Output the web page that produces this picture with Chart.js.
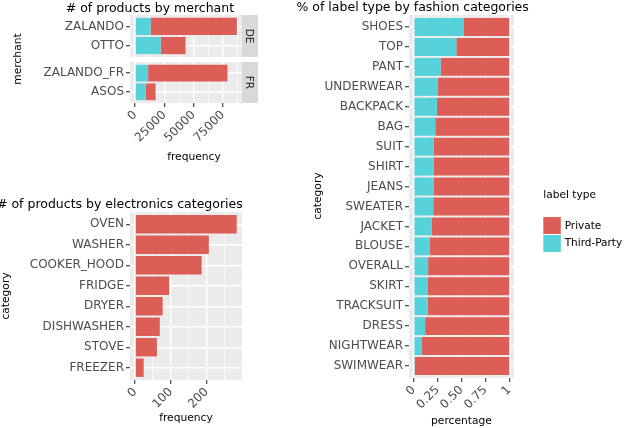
<!DOCTYPE html>
<html><head><meta charset="utf-8">
<script src="https://cdn.jsdelivr.net/npm/chart.js@4.4.1/dist/chart.umd.min.js"></script>
<style>
html,body{margin:0;padding:0;background:#fff;width:626px;height:428px;overflow:hidden;}
#wrap{position:relative;width:626px;height:428px;}
canvas{position:absolute;}
svg{position:absolute;left:0;top:0;}
svg text{font-family:"DejaVu Sans",sans-serif;}
</style></head><body>
<div id="wrap">
<canvas id="cDE" width="242" height="42" style="left:0;top:15px"></canvas>
<canvas id="cFR" width="242" height="81" style="left:0;top:62px"></canvas>
<canvas id="cEL" width="242" height="208" style="left:0;top:212px"></canvas>
<canvas id="cFA" width="214" height="403" style="left:300px;top:15px"></canvas>
<svg id="ann" width="626" height="428">
  <text x="65.7" y="11.7" font-size="12.5" fill="#000"># of products by merchant</text>
  <text transform="translate(20.7,59) rotate(-90)" text-anchor="middle" font-size="10.7" fill="#000">merchant</text>
  <rect x="242" y="15" width="16" height="42" fill="#D9D9D9"/>
  <rect x="242" y="62" width="16" height="41" fill="#D9D9D9"/>
  <text transform="translate(246.3,36) rotate(90)" text-anchor="middle" font-size="10.5" fill="#1A1A1A">DE</text>
  <text transform="translate(246.3,82.5) rotate(90)" text-anchor="middle" font-size="10.5" fill="#1A1A1A">FR</text>
  <text x="194" y="159.5" text-anchor="middle" font-size="10.7" fill="#000">frequency</text>

  <text x="-3" y="208" font-size="12.5" fill="#000"># of products by electronics categories</text>
  <text transform="translate(9.2,296) rotate(-90)" text-anchor="middle" font-size="10.7" fill="#000">category</text>
  <text x="186" y="421" text-anchor="middle" font-size="10.7" fill="#000">frequency</text>

  <text x="296.5" y="11" font-size="12.5" fill="#000">% of label type by fashion categories</text>
  <text transform="translate(320.8,196) rotate(-90)" text-anchor="middle" font-size="10.7" fill="#000">category</text>
  <text x="461.5" y="423.5" text-anchor="middle" font-size="10.7" fill="#000">percentage</text>

  <text x="543.3" y="198.3" font-size="10.6" fill="#000">label type</text>
  <rect x="543.3" y="217" width="17.5" height="17" fill="#DD5E57"/>
  <rect x="543.3" y="235" width="17.5" height="17" fill="#56D2DA"/>
  <text x="564.7" y="228.5" font-size="10.5" fill="#000">Private</text>
  <text x="564.7" y="246" font-size="10.5" fill="#000">Third-Party</text>
</svg>
</div>
<script>
// ---------- data ----------
const merchantsDE = ['ZALANDO', 'OTTO'];
const thirdPartyDE = [13200, 21800];
const privateDE = [73700, 21300];
const merchantsFR = ['ZALANDO_FR', 'ASOS'];
const thirdPartyFR = [11100, 9100];
const privateFR = [67800, 8400];
const merchantMajor = [0, 25000, 50000, 75000];
const merchantMinor = [12500, 37500, 62500, 87500];
const merchantTickLabels = ['0', '25000', '50000', '75000'];

const elecCategories = ['OVEN', 'WASHER', 'COOKER_HOOD', 'FRIDGE', 'DRYER', 'DISHWASHER', 'STOVE', 'FREEZER'];
const elecCounts = [284, 206, 186, 95, 77, 69, 61, 24];
const elecMajor = [0, 100, 200];
const elecMinor = [50, 150, 250];
const elecTickLabels = ['0', '100', '200'];

const fashionCategories = ['SHOES', 'TOP', 'PANT', 'UNDERWEAR', 'BACKPACK', 'BAG', 'SUIT', 'SHIRT', 'JEANS',
  'SWEATER', 'JACKET', 'BLOUSE', 'OVERALL', 'SKIRT', 'TRACKSUIT', 'DRESS', 'NIGHTWEAR', 'SWIMWEAR'];
const fashionThirdParty = [0.526, 0.446, 0.281, 0.253, 0.242, 0.225, 0.210, 0.207, 0.207,
  0.204, 0.186, 0.168, 0.150, 0.149, 0.145, 0.119, 0.081, 0.011];
const fashionPrivate = [0.474, 0.554, 0.719, 0.747, 0.758, 0.775, 0.790, 0.793, 0.793,
  0.796, 0.814, 0.832, 0.850, 0.851, 0.855, 0.881, 0.919, 0.989];
const pctMajor = [0, 0.25, 0.5, 0.75, 1];
const pctMinor = [0.125, 0.375, 0.625, 0.875];
const pctTickLabels = ['0', '0.25', '0.50', '0.75', '1'];

// ---------- style ----------
const RED = '#DD5E57', CYAN = '#56D2DA';
Chart.defaults.font.family = '"DejaVu Sans", sans-serif';

const panelBg = {
  id: 'panelBg',
  beforeDraw(chart) {
    const { ctx, chartArea: a } = chart;
    ctx.save();
    ctx.fillStyle = '#EBEBEB';
    ctx.fillRect(a.left, a.top, a.right - a.left, a.bottom - a.top);
    ctx.restore();
  }
};

function valueAxis(min, max, majors, minors, labels, showTicks, height) {
  const isMajor = c => c.tick && majors.includes(c.tick.value);
  return {
    type: 'linear', position: 'bottom', min, max, stacked: true, bounds: 'data', offset: false,
    afterBuildTicks(s) { s.ticks = majors.concat(minors).sort((a, b) => a - b).map(v => ({ value: v })); },
    afterFit(s) { s.height = height; s.paddingLeft = 0; s.paddingRight = 0; },
    border: { display: false },
    grid: {
      offset: false,
      color: '#FFFFFF',
      lineWidth: c => isMajor(c) ? 1.4 : 0.7,
      drawTicks: showTicks, tickLength: 4, tickWidth: 1.1,
      tickColor: c => isMajor(c) ? '#333333' : 'rgba(0,0,0,0)'
    },
    ticks: {
      display: showTicks, autoSkip: false, minRotation: 45, maxRotation: 45, padding: 1,
      color: '#4D4D4D', font: { size: 12 },
      callback: v => { const i = majors.indexOf(v); return i >= 0 ? labels[i] : ''; }
    }
  };
}

function catAxis(cats, width) {
  return {
    type: 'linear', position: 'left', min: -0.6, max: cats.length - 0.4, reverse: true, stacked: true,
    bounds: 'data', offset: false,
    afterBuildTicks(s) { s.ticks = cats.map((c, i) => ({ value: i })); },
    afterFit(s) { s.width = width; s.paddingTop = 0; s.paddingBottom = 0; },
    border: { display: false },
    grid: { offset: false, color: '#FFFFFF', lineWidth: 1.4, tickLength: 4, tickWidth: 1.1, tickColor: '#333333' },
    ticks: {
      autoSkip: false, padding: 2, color: '#4D4D4D', font: { size: 12 },
      callback: v => (cats[v] !== undefined ? cats[v] : '')
    }
  };
}

function baseOptions(scales) {
  return {
    indexAxis: 'y', responsive: false, animation: false,
    layout: { padding: 0 },
    plugins: { legend: { display: false }, tooltip: { enabled: false } },
    datasets: { bar: { barPercentage: 0.9, categoryPercentage: 1.0, borderWidth: 0 } },
    scales
  };
}
const pts = arr => arr.map((v, i) => ({ x: v, y: i }));

// ---------- merchant DE ----------
new Chart(document.getElementById('cDE'), {
  type: 'bar',
  data: { datasets: [
    { label: 'Third-Party', data: pts(thirdPartyDE), backgroundColor: CYAN },
    { label: 'Private', data: pts(privateDE), backgroundColor: RED }
  ] },
  options: baseOptions({
    x: valueAxis(-4347, 91287, merchantMajor, merchantMinor, merchantTickLabels, false, 0),
    y: catAxis(merchantsDE, 130)
  }),
  plugins: [panelBg]
});

// ---------- merchant FR ----------
new Chart(document.getElementById('cFR'), {
  type: 'bar',
  data: { datasets: [
    { label: 'Third-Party', data: pts(thirdPartyFR), backgroundColor: CYAN },
    { label: 'Private', data: pts(privateFR), backgroundColor: RED }
  ] },
  options: baseOptions({
    x: valueAxis(-4347, 91287, merchantMajor, merchantMinor, merchantTickLabels, true, 40),
    y: catAxis(merchantsFR, 130)
  }),
  plugins: [panelBg]
});

// ---------- electronics ----------
new Chart(document.getElementById('cEL'), {
  type: 'bar',
  data: { datasets: [
    { label: 'Private', data: pts(elecCounts), backgroundColor: RED }
  ] },
  options: baseOptions({
    x: valueAxis(-14.2, 298.7, elecMajor, elecMinor, elecTickLabels, true, 40),
    y: catAxis(elecCategories, 130)
  }),
  plugins: [panelBg]
});

// ---------- fashion ----------
new Chart(document.getElementById('cFA'), {
  type: 'bar',
  data: { datasets: [
    { label: 'Third-Party', data: pts(fashionThirdParty), backgroundColor: CYAN },
    { label: 'Private', data: pts(fashionPrivate), backgroundColor: RED }
  ] },
  options: baseOptions({
    x: valueAxis(-0.05, 1.05, pctMajor, pctMinor, pctTickLabels, true, 40),
    y: catAxis(fashionCategories, 109)
  }),
  plugins: [panelBg]
});
</script>
</body></html>
